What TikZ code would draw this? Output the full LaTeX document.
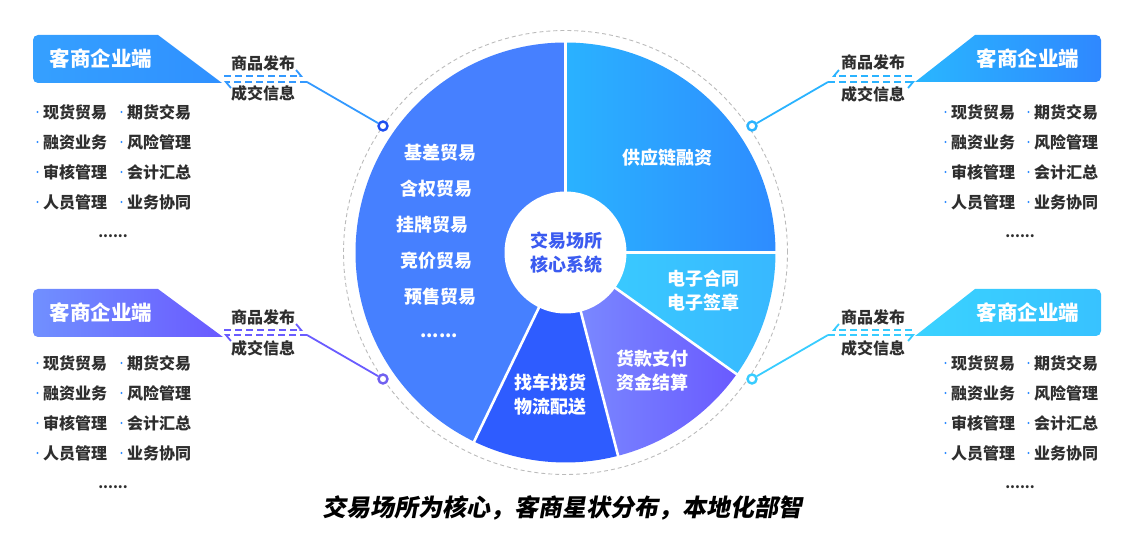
\documentclass[tikz,border=0pt]{standalone}
\usepackage{fontspec}
\setmainfont{Noto Sans CJK SC}
\newfontfamily\titlefont[FakeSlant=0.18]{Noto Sans CJK SC}
\usetikzlibrary{arrows.meta}
\definecolor{txtc}{HTML}{2E2E2E}
\definecolor{dotc}{HTML}{2F8CFF}
\definecolor{tlc}{HTML}{3399FF}
\definecolor{tlring}{HTML}{1E4FF0}
\definecolor{tlA}{HTML}{35A0FF}
\definecolor{tlB}{HTML}{2F90FF}
\definecolor{trc}{HTML}{2AB3FF}
\definecolor{trA}{HTML}{29B6FF}
\definecolor{trB}{HTML}{2F88FF}
\definecolor{blc}{HTML}{6A5CFF}
\definecolor{blring}{HTML}{7060F0}
\definecolor{blA}{HTML}{7090FF}
\definecolor{blB}{HTML}{6A5AFF}
\definecolor{brc}{HTML}{38CCFF}
\definecolor{brA}{HTML}{3AD2FF}
\definecolor{brB}{HTML}{38C2FF}
\definecolor{bigc}{HTML}{4680FF}
\definecolor{logc}{HTML}{2E5CFF}
\definecolor{scA}{HTML}{2AB2FF}
\definecolor{scB}{HTML}{2E8CFF}
\definecolor{ecA}{HTML}{3ACEFF}
\definecolor{ecB}{HTML}{38B8FF}
\definecolor{pyA}{HTML}{7B8CFF}
\definecolor{pyB}{HTML}{6A5AFF}
\definecolor{ctrc}{HTML}{3B5BF0}
\definecolor{ringgray}{HTML}{BBBBBB}
\newcommand\clientlist[4]{%
  \foreach \a/\b [count=\i] in {现货贸易/期货交易,融资业务/风险管理,审核管理/会计汇总,人员管理/业务协同}{
    \node[item] (#1-a\i) at (#2,#4+30*\i-30) {\a};
    \node[item] (#1-b\i) at (#3,#4+30*\i-30) {\b};
    \fill[dotc] ($(#1-a\i.west)+(-5.5pt,0)$) circle[radius=1.2pt];
    \fill[dotc] ($(#1-b\i.west)+(-5.5pt,0)$) circle[radius=1.2pt];
  }}
\usetikzlibrary{calc}
\begin{document}
\begin{tikzpicture}[x=1pt,y=-1pt,
  hdrtext/.style={text=white,inner sep=0pt,font=\fontsize{20.5}{24}\selectfont\bfseries},
  flowlabel/.style={text=txtc,inner sep=0pt,font=\fontsize{16}{18}\selectfont\bfseries},
  item/.style={anchor=west,inner sep=0pt,text=txtc,font=\fontsize{16}{18}\selectfont\bfseries},
  moredots/.style={text=txtc,inner sep=0pt,font=\fontsize{14}{16}\selectfont\bfseries},
  pietext/.style={text=white,inner sep=0pt,align=center,font=\fontsize{18}{24}\selectfont\bfseries},
  ringnode/.style={circle,draw=#1,line width=2.4pt,fill=white,minimum size=9pt,inner sep=0pt},
  dashline/.style={draw=#1,line width=1.8pt,dash pattern=on 7pt off 4pt},
  connline/.style={draw=#1,line width=1.8pt},
  barb/.style={-{Straight Barb[harpoon,length=5pt,width=12pt,line width=1.8pt]}},
  barbswap/.style={-{Straight Barb[harpoon,swap,length=5pt,width=12pt,line width=1.8pt]}}]
\useasboundingbox (0,0) rectangle (1146,534);

% ---------- central pie ----------
\coordinate (C) at (565.5,252.5);
\draw[ringgray,line width=0.9pt,dash pattern=on 4pt off 3pt] (C) circle[radius=222pt];
\begin{scope}[shift={(565.5,252.5)}]
  \fill[bigc] (0,0) -- (90:210pt) arc[start angle=90,end angle=244.2,radius=210pt] -- cycle;
  \fill[logc] (0,0) -- (-115.8:210pt) arc[start angle=-115.8,end angle=-75.5,radius=210pt] -- cycle;
  \shade[left color=pyA,right color=pyB] (0,0) -- (-75.5:210pt) arc[start angle=-75.5,end angle=-35.4,radius=210pt] -- cycle;
  \shade[left color=ecA,right color=ecB] (0,0) -- (-35.4:210pt) arc[start angle=-35.4,end angle=0,radius=210pt] -- cycle;
  \shade[left color=scA,right color=scB] (0,0) -- (0:210pt) arc[start angle=0,end angle=90,radius=210pt] -- cycle;
  \foreach \ang in {90,0,-35.4,-75.5,-115.8}
    \draw[white,line width=2.6pt] (0,0) -- (\ang:212pt);
  \fill[white] (0,0) circle[radius=61pt];
\end{scope}

\node[pietext] (t1) at (440,153) {基差贸易};
\node[pietext] (t2) at (436,189) {含权贸易};
\node[pietext] (t3) at (432,225) {挂牌贸易};
\node[pietext] (t4) at (436,261) {竞价贸易};
\node[pietext] (t5) at (440,297) {预售贸易};
\node[pietext] (t6) at (439,336) {......};
\node[pietext] (sc) at (667,158) {供应链融资};
\node[pietext] (ec) at (703,291) {电子合同\\电子签章};
\node[pietext] (py) at (652,371) {货款支付\\资金结算};
\node[pietext] (lg) at (550,395) {找车找货\\物流配送};
\node[pietext,text=ctrc] (core) at (566,253) {交易场所\\核心系统};

% ---------- top-left client ----------
\shade[left color=tlA,right color=tlB,rounded corners=5pt]
  (90,35) -- (33,35) -- (33,83) -- (90,83) [sharp corners] -- (222,83) -- (158,35) -- cycle;
\node[hdrtext] (tlh) at (101,59) {客商企业端};
\node[flowlabel] (tlp) at (263,63) {商品发布};
\node[flowlabel] (tli) at (263,93) {成交信息};
\coordinate (tl1) at (224,76); \coordinate (tl2) at (303,76);
\coordinate (tl3) at (307,82); \coordinate (tl4) at (224,82);
\node[ringnode=tlring] (tlr) at (383,126) {};
\draw[dashline=tlc,barb] (tl1) -- (tl2);
\draw[dashline=tlc,barb] (tl3) -- (tl4);
\draw[connline=tlc] (tl3) -- (tlr);
\clientlist{tl}{43}{127}{112}
\node[moredots] (tld) at (113,236) {......};

% ---------- bottom-left client ----------
\shade[left color=blA,right color=blB,rounded corners=5pt]
  (90,289) -- (33,289) -- (33,337) -- (90,337) [sharp corners] -- (223,337) -- (158,289) -- cycle;
\node[hdrtext] (blh) at (101,313) {客商企业端};
\node[flowlabel] (blp) at (263,317) {商品发布};
\node[flowlabel] (bli) at (263,348) {成交信息};
\coordinate (bl1) at (224,330); \coordinate (bl2) at (303,330);
\coordinate (bl3) at (307,335); \coordinate (bl4) at (224,335);
\node[ringnode=blring] (blr) at (383,379) {};
\draw[dashline=blc,barb] (bl1) -- (bl2);
\draw[dashline=blc,barb] (bl3) -- (bl4);
\draw[connline=blc] (bl3) -- (blr);
\clientlist{bl}{43}{127}{363}
\node[moredots] (bld) at (113,487) {......};

% ---------- top-right client ----------
\shade[left color=trA,right color=trB,rounded corners=5pt]
  (1040,35) -- (1101,35) -- (1101,82) -- (1040,82) [sharp corners] -- (915,82) -- (975,35) -- cycle;
\node[hdrtext] (trh) at (1028,59) {客商企业端};
\node[flowlabel] (trp) at (873,62) {商品发布};
\node[flowlabel] (tri) at (873,94) {成交信息};
\coordinate (tr1) at (912,76); \coordinate (tr2) at (832,76);
\coordinate (tr3) at (828,82); \coordinate (tr4) at (915,82);
\node[ringnode=trc] (trr) at (752,126) {};
\draw[dashline=trc,barbswap] (tr1) -- (tr2);
\draw[dashline=trc,barbswap] (tr3) -- (tr4);
\draw[connline=trc] (tr3) -- (trr);
\clientlist{tr}{951}{1034}{112}
\node[moredots] (trd) at (1020,236) {......};

% ---------- bottom-right client ----------
\shade[left color=brA,right color=brB,rounded corners=5pt]
  (1040,289) -- (1101,289) -- (1101,336) -- (1040,336) [sharp corners] -- (915,336) -- (975,289) -- cycle;
\node[hdrtext] (brh) at (1028,313) {客商企业端};
\node[flowlabel] (brp) at (873,317) {商品发布};
\node[flowlabel] (bri) at (873,348) {成交信息};
\coordinate (br1) at (912,330); \coordinate (br2) at (832,330);
\coordinate (br3) at (828,335); \coordinate (br4) at (915,335);
\node[ringnode=brc] (brr) at (752,379) {};
\draw[dashline=brc,barbswap] (br1) -- (br2);
\draw[dashline=brc,barbswap] (br3) -- (br4);
\draw[connline=brc] (br3) -- (brr);
\clientlist{br}{951}{1034}{363}
\node[moredots] (brd) at (1020,487) {......};

% ---------- title ----------
\node[text=black,inner sep=0pt,font=\titlefont\fontsize{24}{28}\selectfont\bfseries] (title) at (562,508) {交易场所为核心，客商星状分布，本地化部智};
\end{tikzpicture}
\end{document}
